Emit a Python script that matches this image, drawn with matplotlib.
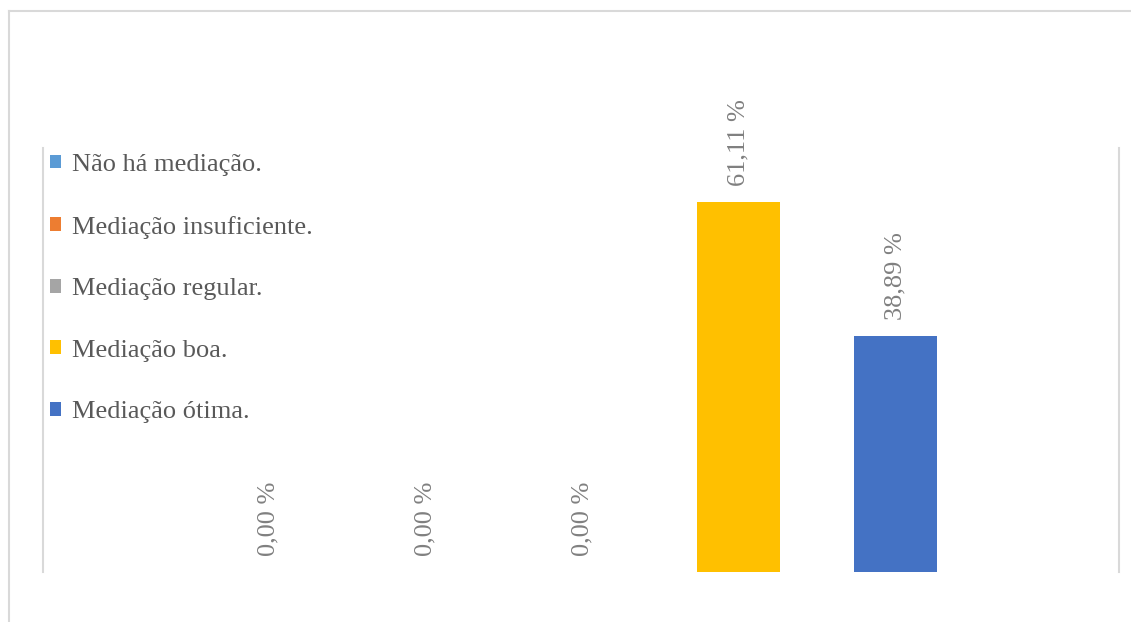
import matplotlib.pyplot as plt

plt.rcParams['font.family'] = ['Liberation Serif', 'DejaVu Serif']

categorias = ['Não há mediação.', 'Mediação insuficiente.', 'Mediação regular.',
              'Mediação boa.', 'Mediação ótima.']
valores = [0.00, 0.00, 0.00, 61.11, 38.89]
cores = ['#5B9BD5', '#ED7D31', '#A5A5A5', '#FFC000', '#4472C4']

W, H = 1131, 622
fig = plt.figure(figsize=(W / 100, H / 100), dpi=100)
ax = fig.add_axes([43 / W, 1 - 572 / H, (1119 - 43) / W, (572 - 148) / H])

for i, (cat, v, c) in enumerate(zip(categorias, valores, cores)):
    ax.bar(i, v, width=0.53, color=c, label=cat)
    txt = f'{v:.2f}'.replace('.', ',') + ' %'
    ax.annotate(txt, (i, v), xytext=(0, 11.5), textcoords='offset points',
                rotation=90, ha='center', va='bottom', fontsize=19, color='#808080')

ax.set_xlim(-1.44, 5.425)
ax.set_ylim(0, 70)
ax.set_xticks([])
ax.set_yticks([])
for s in ['top', 'bottom']:
    ax.spines[s].set_visible(False)
for s in ['left', 'right']:
    ax.spines[s].set_color('#d9d9d9')
    ax.spines[s].set_linewidth(1.5)

leg = fig.legend(loc='upper left', bbox_to_anchor=(50 / W, 1 - 154 / H), frameon=False,
                 fontsize=19, handlelength=0.42, handleheight=0.42, handletextpad=0.42,
                 labelspacing=1.5, borderpad=0, borderaxespad=0)
for t in leg.get_texts():
    t.set_color('#595959')

# moldura parcial do gráfico
fig.add_artist(plt.Line2D([9 / W, 1], [1 - 11 / H, 1 - 11 / H], color='#d9d9d9', lw=1.5))
fig.add_artist(plt.Line2D([9 / W, 9 / W], [0, 1 - 11 / H], color='#d9d9d9', lw=1.5))

fig.savefig('out.png', dpi=100)
